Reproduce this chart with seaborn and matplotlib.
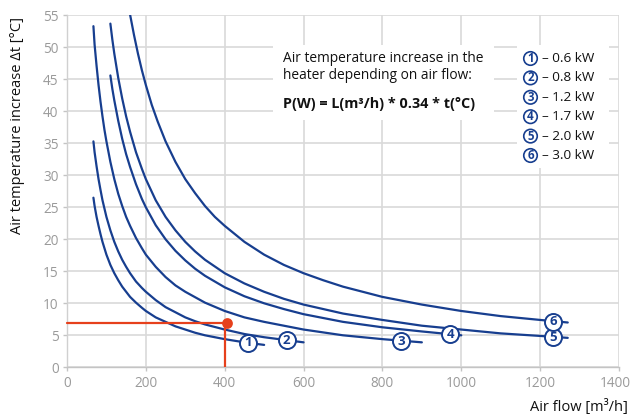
import pandas as pd
import matplotlib
matplotlib.use("Agg")
import matplotlib.pyplot as plt
import matplotlib.transforms as mtransforms
import seaborn as sns
from matplotlib.patches import Rectangle, Ellipse

# ---- data ----
c1_x = [67, 70, 75, 80, 85, 90, 95, 100, 110, 120, 130, 140, 150, 160, 175, 190, 200, 225, 250, 275, 300, 325, 350, 375, 400, 450, 500]
c1_y = [26.5, 25.2, 23.5, 22.1, 20.8, 19.6, 18.6, 17.6, 16.0, 14.7, 13.6, 12.6, 11.8, 11.0, 10.1, 9.3, 8.8, 7.8, 7.1, 6.4, 5.9, 5.4, 5.0, 4.7, 4.4, 3.9, 3.5]
c2_x = [67, 70, 75, 80, 85, 90, 95, 100, 110, 120, 130, 140, 150, 160, 175, 190, 200, 225, 250, 275, 300, 325, 350, 375, 400, 450, 500, 550, 600]
c2_y = [35.3, 33.6, 31.4, 29.4, 27.7, 26.1, 24.8, 23.5, 21.4, 19.6, 18.1, 16.8, 15.7, 14.7, 13.4, 12.4, 11.8, 10.5, 9.4, 8.6, 7.8, 7.2, 6.7, 6.3, 5.9, 5.2, 4.7, 4.3, 3.9]
c3_x = [67, 70, 75, 80, 85, 90, 95, 100, 110, 120, 130, 140, 150, 160, 175, 190, 200, 225, 250, 275, 300, 350, 400, 450, 500, 600, 700, 800, 900]
c3_y = [53.3, 50.4, 47.1, 44.1, 41.5, 39.2, 37.1, 35.3, 32.1, 29.4, 27.1, 25.2, 23.5, 22.1, 20.2, 18.6, 17.6, 15.7, 14.1, 12.8, 11.8, 10.1, 8.8, 7.8, 7.1, 5.9, 5.0, 4.4, 3.9]
c4_x = [110, 115, 120, 130, 140, 150, 160, 175, 190, 200, 225, 250, 275, 300, 325, 350, 400, 450, 500, 550, 600, 700, 800, 900, 1000]
c4_y = [45.6, 43.5, 41.7, 38.5, 35.7, 33.3, 31.3, 28.6, 26.3, 25.0, 22.2, 20.0, 18.2, 16.7, 15.4, 14.3, 12.5, 11.1, 10.0, 9.1, 8.3, 7.1, 6.25, 5.6, 5.0]
c5_x = [110, 115, 120, 130, 140, 150, 160, 175, 190, 200, 225, 250, 275, 300, 325, 350, 400, 450, 500, 550, 600, 700, 800, 900, 1000, 1100, 1200, 1270]
c5_y = [53.7, 51.2, 49.0, 45.2, 42.0, 39.2, 36.8, 33.6, 31.0, 29.4, 26.1, 23.5, 21.4, 19.6, 18.1, 16.8, 14.7, 13.1, 11.8, 10.7, 9.8, 8.4, 7.4, 6.5, 5.9, 5.3, 4.9, 4.6]
c6_x = [160, 170, 180, 190, 200, 215, 230, 250, 275, 300, 325, 350, 375, 400, 450, 500, 550, 600, 650, 700, 800, 900, 1000, 1100, 1200, 1270]
c6_y = [55.1, 51.9, 49.0, 46.4, 44.1, 41.0, 38.4, 35.3, 32.1, 29.4, 27.2, 25.2, 23.5, 22.1, 19.6, 17.6, 16.0, 14.7, 13.6, 12.6, 11.0, 9.8, 8.8, 8.0, 7.4, 7.0]

curve_ids = ["1", "2", "3", "4", "5", "6"]
curve_power = ["0.6 kW", "0.8 kW", "1.2 kW", "1.7 kW", "2.0 kW", "3.0 kW"]
label_x = [460, 557, 848, 972, 1232, 1232]
label_y = [3.8, 4.2, 4.1, 5.15, 4.7, 7.1]

example_flow = 400
example_dt = 7

x_ticks = [0, 200, 400, 600, 800, 1000, 1200, 1400]
y_ticks = [0, 5, 10, 15, 20, 25, 30, 35, 40, 45, 50, 55]

BLUE = "#173e8f"
RED = "#e6401c"

frames = []
for cid, xs, ys in zip(curve_ids, [c1_x, c2_x, c3_x, c4_x, c5_x, c6_x],
                       [c1_y, c2_y, c3_y, c4_y, c5_y, c6_y]):
    frames.append(pd.DataFrame({"flow": xs, "dt": ys, "curve": cid}))
df = pd.concat(frames, ignore_index=True)

sns.set_theme(style="whitegrid")
plt.rcParams["font.family"] = ["Open Sans", "DejaVu Sans"]

fig = plt.figure(figsize=(6.33, 4.17), dpi=100)
ax = fig.add_axes([67 / 633, 1 - 367.3 / 417, 552 / 633, 352 / 417])

ax.set_xlim(0, 1400)
ax.set_ylim(0, 55)
ax.set_xticks(x_ticks)
ax.set_yticks(y_ticks)
ax.grid(True, color="#d9d9d9", linewidth=1.2)
ax.set_axisbelow(True)
for s in ["top", "right"]:
    ax.spines[s].set_visible(False)
ax.spines["left"].set_color("#d0d0d0")
ax.spines["bottom"].set_color("#c4c4c4")
ax.spines["left"].set_linewidth(1.0)
ax.spines["bottom"].set_linewidth(1.0)
ax.tick_params(axis="both", colors="#c4c4c4", labelcolor="#9a9a9a", labelsize=9.8,
               length=3, width=1, direction="out", left=True, bottom=True, pad=3)

# white boxes behind annotation texts
ax.add_patch(Rectangle((273 / 633, 1 - 120 / 417), 221 / 633, 75 / 417,
                       transform=fig.transFigure, facecolor="white", edgecolor="none", zorder=1))
ax.add_patch(Rectangle((517 / 633, 1 - 168 / 417), 92 / 633, 123 / 417,
                       transform=fig.transFigure, facecolor="white", edgecolor="none", zorder=1))

sns.lineplot(data=df, x="flow", y="dt", units="curve", estimator=None, sort=False,
             color=BLUE, linewidth=1.6, ax=ax, zorder=3)

# red example
ax.plot([0, example_flow], [example_dt, example_dt], color=RED, lw=1.6, zorder=4, clip_on=False)
ax.plot([example_flow, example_flow], [example_dt, 0], color=RED, lw=1.6, zorder=4)
ax.scatter([example_flow + 5], [example_dt], s=60, color=RED, zorder=5, linewidths=0)

# circled labels on curves
ax.scatter(label_x, label_y, s=150, facecolor="white", edgecolor=BLUE, linewidths=1.4, zorder=6)
for cid, lx, ly in zip(curve_ids, label_x, label_y):
    ax.text(lx, ly, cid, color=BLUE, fontsize=9.5, fontweight="bold", ha="center",
            va="center", zorder=7)

ax.set_xlabel("")
ax.set_ylabel("")
fig.text(628 / 633, 1 - 407 / 417, "Air flow [m³/h]", ha="right", va="center",
         fontsize=10.5, color="#111111")
fig.text(18 / 633, 1 - 17 / 417, "Air temperature increase Δt [°C]", rotation=90,
         ha="center", va="top", fontsize=10.5, color="#111111")

# explanation text
fig.text(283 / 633, 1 - 59 / 417, "Air temperature increase in the", ha="left",
         va="center", fontsize=9.9, color="#111111")
fig.text(283 / 633, 1 - 75.5 / 417, "heater depending on air flow:", ha="left",
         va="center", fontsize=9.9, color="#111111")
fig.text(283 / 633, 1 - 104 / 417, "P(W) = L(m³/h) * 0.34 * t(°C)", ha="left",
         va="center", fontsize=10.4, fontweight="bold", color="#111111")

# legend of powers
for i, (cid, pw) in enumerate(zip(curve_ids, curve_power)):
    yy = 1 - (58.5 + i * 19.4) / 417
    fig.text(542 / 633, yy, "– " + pw, ha="left", va="center", fontsize=9.7,
             color="#111111")
    fig.text(530.5 / 633, yy, cid, ha="center", va="center", fontsize=8.3,
             fontweight="bold", color=BLUE, zorder=8)
    e = Ellipse((530.5 / 633, yy), 13.5 / 633, 13.5 / 417, transform=fig.transFigure,
                facecolor="white", edgecolor=BLUE, linewidth=1.2, zorder=7)
    fig.patches.append(e)

# keep the last x tick label inside the canvas
fig.canvas.draw()
last = ax.get_xticklabels()[-1]
last.set_transform(last.get_transform() +
                   mtransforms.ScaledTranslation(-4 / 100, 0, fig.dpi_scale_trans))

fig.savefig("out.png", dpi=100)
